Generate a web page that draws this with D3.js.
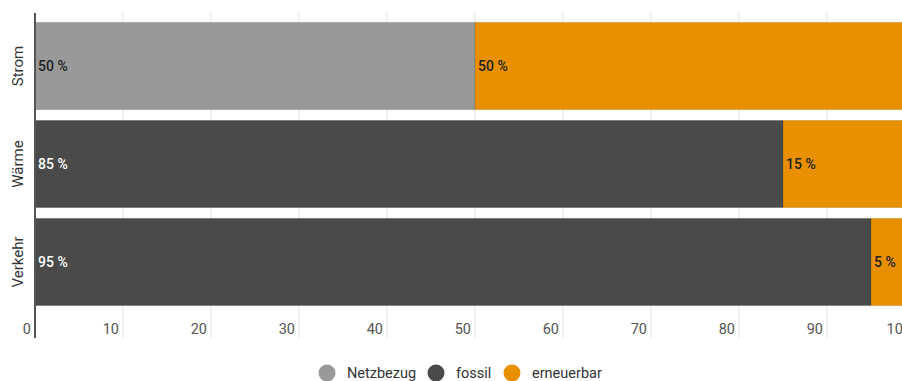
<!DOCTYPE html>
<html>
<head>
<meta charset="utf-8">
<script src="https://cdn.jsdelivr.net/npm/d3@7"></script>
<style>
  html, body { margin: 0; padding: 0; background: #fff; overflow: hidden; }
  svg { display: block; font-family: Roboto, "Noto Sans", sans-serif; }
</style>
</head>
<body>
<svg id="chart" width="902" height="381"></svg>
<script>
// Energy sectors and their shares (percent)
const categories = ["Strom", "Wärme", "Verkehr"];
const seriesNames = ["Netzbezug", "fossil", "erneuerbar"];
const netzbezug = [50, 0, 0];
const fossil = [0, 85, 95];
const erneuerbar = [50, 15, 5];
const xTicks = [0, 10, 20, 30, 40, 50, 60, 70, 80, 90, 100];

const colors = { Netzbezug: "#999999", fossil: "#4a4a4a", erneuerbar: "#e89000" };
const labelColors = { Netzbezug: "#222", fossil: "#fff", erneuerbar: "#222" };

const rows = categories.map((c, i) => ({
  category: c, Netzbezug: netzbezug[i], fossil: fossil[i], erneuerbar: erneuerbar[i]
}));

const svg = d3.select("#chart");
const x = d3.scaleLinear().domain([0, 100]).range([35, 915]);
const y = d3.scaleBand().domain(categories).range([17, 311])
  .paddingInner(0.11).paddingOuter(0.055);

// vertical grid lines
svg.append("g")
  .selectAll("line")
  .data(xTicks.filter(t => t > 0))
  .join("line")
  .attr("x1", d => x(d)).attr("x2", d => x(d))
  .attr("y1", 13).attr("y2", 338)
  .attr("stroke", "#e3e3e3").attr("stroke-width", 1);

// stacked bars
const stack = d3.stack().keys(seriesNames)(rows);
const layers = svg.append("g").selectAll("g")
  .data(stack).join("g")
  .attr("fill", d => colors[d.key]);

layers.selectAll("rect")
  .data(d => d.map(v => ({ key: d.key, v })))
  .join("rect")
  .filter(d => d.v[1] - d.v[0] > 0)
  .attr("x", d => x(d.v[0]))
  .attr("y", d => y(d.v.data.category))
  .attr("width", d => x(d.v[1]) - x(d.v[0]))
  .attr("height", y.bandwidth())
  .attr("stroke", "rgba(0,0,0,0.12)")
  .attr("stroke-width", 1);

// value labels
layers.selectAll("text")
  .data(d => d.map(v => ({ key: d.key, v })).filter(e => e.v[1] - e.v[0] > 0))
  .join("text")
  .attr("x", d => x(d.v[0]) + 3)
  .attr("y", d => y(d.v.data.category) + y.bandwidth() / 2)
  .attr("dy", "0.35em")
  .attr("fill", d => labelColors[d.key])
  .attr("font-size", 14)
  .attr("font-weight", 500)
  .text(d => (d.v[1] - d.v[0]) + " %");

// x tick labels
svg.append("g")
  .selectAll("text")
  .data(xTicks)
  .join("text")
  .attr("x", d => x(d) - 4)
  .attr("y", 334)
  .attr("text-anchor", "end")
  .attr("fill", "#555")
  .attr("font-size", 14.5)
  .text(d => d);

// y axis line
svg.append("line")
  .attr("x1", x(0)).attr("x2", x(0))
  .attr("y1", 13).attr("y2", 338)
  .attr("stroke", "#555").attr("stroke-width", 2);

// category labels (rotated)
svg.append("g")
  .selectAll("text")
  .data(categories)
  .join("text")
  .attr("transform", d => `translate(23,${y(d) + y.bandwidth() / 2}) rotate(-90)`)
  .attr("text-anchor", "middle")
  .attr("fill", "#333")
  .attr("font-size", 15)
  .text(d => d);

// legend
const legendItems = [
  { name: "Netzbezug", cx: 327 },
  { name: "fossil", cx: 436 },
  { name: "erneuerbar", cx: 512 }
];
const lg = svg.append("g").selectAll("g").data(legendItems).join("g");
lg.append("circle")
  .attr("cx", d => d.cx).attr("cy", 373).attr("r", 8.5)
  .attr("fill", d => colors[d.name]);
lg.append("text")
  .attr("x", d => d.cx + 20).attr("y", 378)
  .attr("fill", "#333").attr("font-size", 14.5)
  .text(d => d.name);
</script>
</body>
</html>
